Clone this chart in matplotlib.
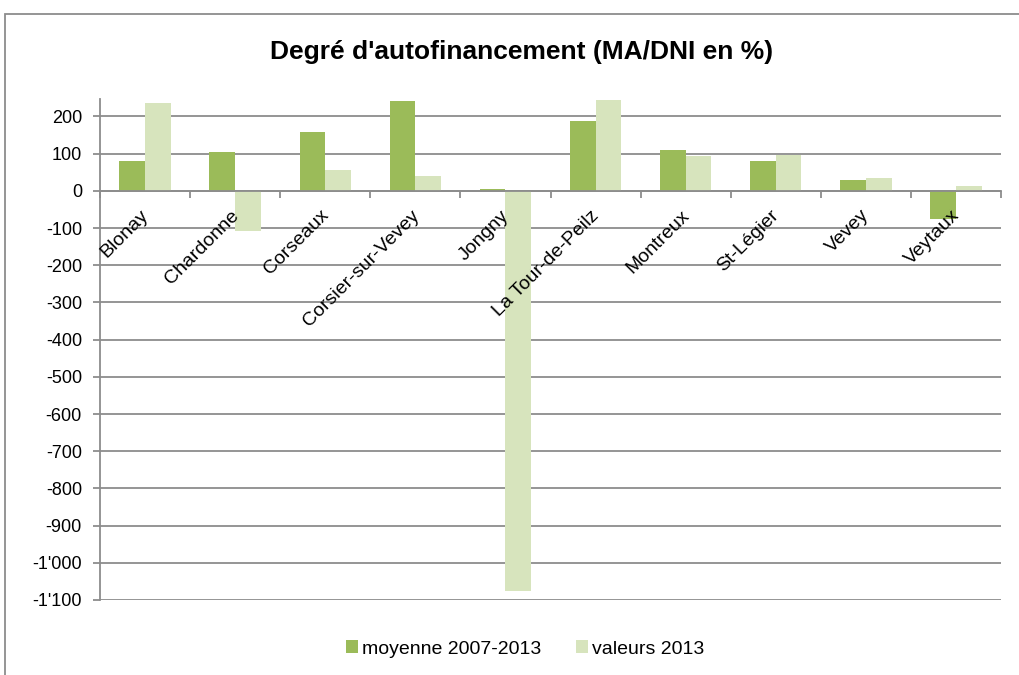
import matplotlib
matplotlib.use("Agg")
import matplotlib.pyplot as plt
import numpy as np
from matplotlib.patches import Rectangle
from matplotlib.ticker import FuncFormatter, FixedLocator
from matplotlib.transforms import offset_copy

plt.rcParams['font.family'] = ['Liberation Sans', 'DejaVu Sans']

# === DONNÉES ===
communes = ["Blonay", "Chardonne", "Corseaux", "Corsier-sur-Vevey", "Jongny",
            "La Tour-de-Peilz", "Montreux", "St-Légier", "Vevey", "Veytaux"]
moyenne = [81, 105, 159, 241, 5, 187, 111, 81, 30, -76]
valeurs_2013 = [237, -109, 56, 40, -1075, 243, 94, 96, 34, 14]
yticks = list(range(-1100, 201, 100))

dark_green = '#9BBB59'
light_green = '#D7E4BD'
grid_col = '#8C8C8C'

fig = plt.figure(figsize=(10.2, 6.75), dpi=100)
ax = fig.add_axes([100 / 1020, 75 / 675, 901 / 1020, 501 / 675])

x = np.arange(len(communes))
w = 1 / 3.5
ax.bar(x - w / 2, moyenne, w, color=dark_green, label='moyenne 2007-2013', zorder=3)
ax.bar(x + w / 2, valeurs_2013, w, color=light_green, label='valeurs 2013', zorder=3)

ax.set_xlim(-0.5, len(communes) - 0.5)
ax.set_ylim(-1100, 247)
ax.set_yticks(yticks)
ax.yaxis.set_major_formatter(FuncFormatter(lambda v, p: f"{v:,.0f}".replace(",", "'")))

# quadrillage derrière les barres
for t in yticks:
    ax.axhline(t, color=grid_col, linewidth=1.3, zorder=1)

# axe des catégories à zéro
ax.spines['bottom'].set_position(('data', 0))
ax.spines['bottom'].set_color(grid_col)
ax.spines['bottom'].set_linewidth(1.3)
ax.spines['bottom'].set_zorder(4)
ax.spines['left'].set_color(grid_col)
ax.spines['left'].set_linewidth(1.3)
ax.spines['top'].set_visible(False)
ax.spines['right'].set_visible(False)

ax.xaxis.set_major_locator(FixedLocator(np.arange(-0.5, len(communes), 1)))
ax.set_xticklabels([])
ax.tick_params(axis='x', which='major', length=5, width=1.3, color=grid_col, direction='out')
ax.tick_params(axis='y', length=5, width=1.3, color=grid_col, pad=8, labelsize=13)

# étiquettes des communes, par-dessus les barres
lab_trans = offset_copy(ax.transData, fig=fig, x=-5, y=-16, units='dots')
for xi, name in zip(x, communes):
    ax.text(xi, 0, name, transform=lab_trans, rotation=45, ha='right', va='top',
            rotation_mode='anchor', fontsize=14, zorder=6, clip_on=False)

fig.text(522 / 1020, (675 - 52) / 675, "Degré d'autofinancement (MA/DNI en %)",
         ha='center', va='center', fontsize=19, fontweight='bold')

fig.legend(loc='center', bbox_to_anchor=(525 / 1020, 26 / 675), ncol=2, frameon=False,
           fontsize=14, handlelength=0.6, handleheight=0.6, handletextpad=0.2,
           columnspacing=1.8)

fig.patches.append(Rectangle((5 / 1020, -0.1), 1.2, (675 - 14) / 675 + 0.1,
                             transform=fig.transFigure, fill=False,
                             edgecolor='#8C8C8C', linewidth=1.3))

plt.savefig("out.png", dpi=100)
